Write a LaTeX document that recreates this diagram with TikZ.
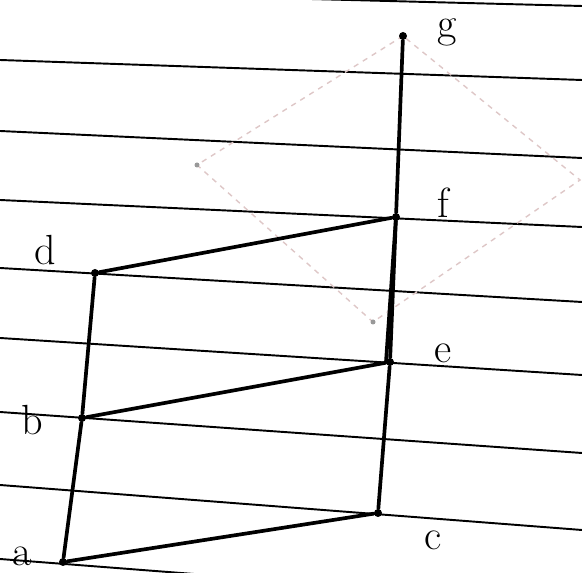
\documentclass[tikz,border=0pt]{standalone}
\usepackage{tikz}

\begin{document}
\begin{tikzpicture}[
  x=0.02cm, y=-0.02cm,
  dot/.style={circle, fill=black, inner sep=0pt, minimum size=0.16cm},
  lbl/.style={font=\fontsize{24}{24}\selectfont, inner sep=0pt},
  edge/.style={line width=2.1pt, line cap=round},
  rule/.style={line width=1.1pt},
  ghost/.style={draw=red!25!gray!35, dashed, line width=0.8pt},
]
\useasboundingbox (0,0) rectangle (582,573);

% ruled paper
\begin{scope}
  \clip (0,0) rectangle (582,573);
  \foreach \yl/\yr in {-9/6, 60/80, 131/158, 200/227, 268/302,
                       338/375, 412/453, 485/530, 559/604}
    \draw[rule] (0,\yl) -- (582,\yr);
  % show-through from the back of the sheet
  \draw[ghost] (403,36) -- (197,165) -- (373,322) -- (580,180) -- cycle;
  \fill[gray!80] (197,165) circle (2.5) (373,322) circle (2.5);
\end{scope}

\node[dot] (a) at (63,562) {};
\node[dot] (b) at (82,418) {};
\node[dot] (d) at (95,273) {};
\node[dot] (c) at (378,513) {};
\node[dot] (e) at (390,362) {};
\node[dot] (f) at (396,217) {};
\node[dot] (g) at (403,36) {};

\node[lbl] (la) at (22,556) {a};
\node[lbl] (lb) at (32,420) {b};
\node[lbl] (ld) at (45,250) {d};
\node[lbl] (lc) at (433,540) {c};
\node[lbl] (le) at (443,353) {e};
\node[lbl] (lf) at (443,203) {f};
\node[lbl] (lg) at (447,32) {g};

\draw[edge] (a) -- (b) -- (d);
\draw[edge] (a) -- (c) -- (e) -- (f) -- (g);
\draw[edge] (b) -- (e);
\draw[edge] (d) -- (f);
\draw[edge] ([xshift=-0.08cm]e.center) -- (f.center);
\end{tikzpicture}
\end{document}
